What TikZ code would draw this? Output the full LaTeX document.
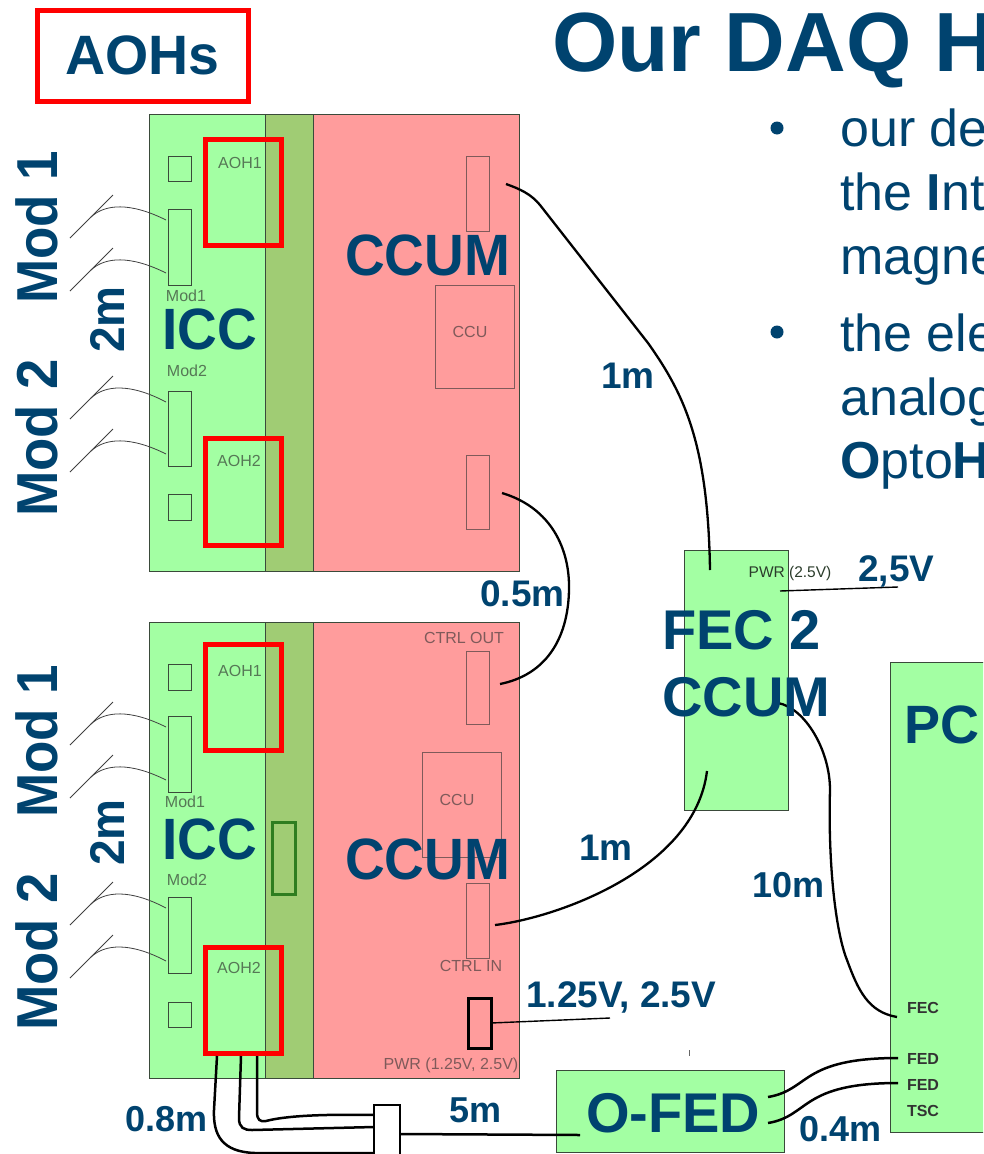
\documentclass[tikz,border=0pt]{standalone}
\usepackage{fontspec}
\usepackage{graphicx}
\setmainfont{Liberation Sans}
\definecolor{navy}{HTML}{00436F}
\definecolor{bgreen}{HTML}{A3FFA3}
\definecolor{bpink}{HTML}{FF9C9C}
\definecolor{bolive}{HTML}{A0CC74}
\definecolor{edge}{HTML}{3A4A3A}
\definecolor{graytxt}{HTML}{567856}
\definecolor{pinktxt}{HTML}{7F5A5A}
\definecolor{gatecol}{HTML}{2E7D20}
\newcommand{\pxbox}[6]{%
  \pgfmathsetmacro\pxW{#5-#3}\pgfmathsetmacro\pxH{#6-#4}%
  \node[#1,minimum width=\pxW pt,minimum height=\pxH pt,inner sep=0pt,outer sep=0pt,anchor=north west] (#2) at (#3,#4) {};}
\newcommand{\navysz}[1]{\fontsize{#1}{#1}\selectfont}
\newcommand{\tall}[2]{\scalebox{1}[#1]{#2}}
\tikzset{
  gfill/.style={fill=bgreen,draw=edge,line width=0.9pt},
  pfill/.style={fill=bpink,draw=edge,line width=0.9pt},
  ofill/.style={fill=bolive,draw=edge,line width=0.9pt},
  partg/.style={draw=edge,line width=0.9pt},
  redbox/.style={draw=red,line width=5pt},
  thin wire/.style={draw=black!75,line width=0.8pt},
  cable/.style={draw=black,line width=2.5pt},
  lbl/.style={anchor=base west,inner sep=0pt,text=navy,font=\bfseries},
  small/.style={inner sep=0pt,text=graytxt,font=\fontsize{16}{16}\selectfont},
  smallp/.style={inner sep=0pt,text=pinktxt,font=\fontsize{16}{16}\selectfont},
  pclbl/.style={inner sep=0pt,text=black!80,font=\bfseries\fontsize{16}{16}\selectfont},
}
\begin{document}
\begin{tikzpicture}[x=1pt,y=-1pt]
\useasboundingbox (0,0) rectangle (983,1154);
\clip (0,0) rectangle (983,1154);
% ---- title block
\pxbox{draw=red,line width=5pt}{aohkey}{37.5}{10}{248.5}{101.5}
\node[lbl,font=\bfseries\navysz{55.5}] (aohs) at (65,74) {AOHs};
\node[lbl,font=\bfseries\navysz{84}] (title) at (552,71) {Our DAQ H};
\fill[navy] (777,128) circle (6.5);
\fill[navy] (777,332) circle (6.5);
\node[lbl,font=\navysz{52}] (t1) at (840,146) {our de};
\node[lbl,font=\navysz{52}] (t2) at (840,210) {the \textbf{I}nt};
\node[lbl,font=\navysz{52}] (t3) at (840,274) {magne};
\node[lbl,font=\navysz{52}] (t4) at (840,351) {the ele};
\node[lbl,font=\navysz{52}] (t5) at (840,415) {analog};
\node[lbl,font=\navysz{52}] (t6) at (840,478) {\textbf{O}pto\textbf{H}};
% ---- upper board
\pxbox{pfill}{pinkA}{313}{114}{519}{571}
\pxbox{gfill}{greenA}{149}{114}{265}{571}
\pxbox{ofill}{oliveA}{265}{114}{313}{571}
\pxbox{partg}{sqA1}{168}{156}{191}{181}
\pxbox{partg}{sqA2}{168}{494}{191}{520}
\pxbox{partg}{modA1}{168}{209}{191}{285}
\pxbox{partg}{modA2}{168}{391}{191}{466}
\pxbox{redbox}{aohA1}{205.5}{139.5}{281.5}{245.5}
\pxbox{redbox}{aohA2}{205.5}{438.5}{281.5}{545.5}
\pxbox{draw=pinktxt,line width=0.9pt}{ctrlA1}{466}{156}{489}{231}
\pxbox{draw=pinktxt,line width=0.9pt}{ctrlA2}{466}{455}{489}{529}
\pxbox{draw=pinktxt,line width=0.9pt}{ccuA}{435}{285}{514}{388}
\node[small] (la1) at (240,163) {AOH1};
\node[small] (la2) at (239,461) {AOH2};
\node[small] (lm1) at (186,296) {Mod1};
\node[small] (lm2) at (187,371) {Mod2};
\node[smallp] (lccuA) at (470,332) {CCU};
% ---- lower board
\pxbox{pfill}{pinkB}{313}{622}{519}{1078}
\pxbox{gfill}{greenB}{149}{622}{265}{1078}
\pxbox{ofill}{oliveB}{265}{622}{313}{1078}
\pxbox{partg}{sqB1}{168}{664}{191}{690}
\pxbox{partg}{sqB2}{168}{1002}{191}{1027}
\pxbox{partg}{modB1}{168}{716}{191}{792}
\pxbox{partg}{modB2}{168}{897}{191}{973}
\pxbox{draw=gatecol,line width=3pt}{gate}{272}{822}{295}{894}
\pxbox{redbox}{aohB1}{205.5}{644.5}{281.5}{750.5}
\pxbox{redbox}{aohB2}{205.5}{947.5}{281.5}{1053.5}
\pxbox{draw=pinktxt,line width=0.9pt}{ctrlout}{466}{651}{489}{724}
\pxbox{draw=pinktxt,line width=0.9pt}{ccuB}{422}{752}{501}{857}
\pxbox{draw=pinktxt,line width=0.9pt}{ctrlin}{466}{883}{489}{958}
\pxbox{draw=black,line width=3pt}{pwrB}{468}{998}{491}{1048}
\node[small] (lb1) at (240,671) {AOH1};
\node[small] (lb2) at (239,968) {AOH2};
\node[small] (ln1) at (185,802) {Mod1};
\node[small] (ln2) at (187,880) {Mod2};
\node[smallp] (lctrlo) at (464,638) {CTRL OUT};
\node[smallp] (lccuB) at (457,800) {CCU};
\node[smallp] (lctrli) at (471,966) {CTRL IN};
\node[smallp] (lpwr) at (451,1065) {PWR (1.25V, 2.5V)};
% ---- other boxes
\pxbox{gfill}{fec}{684}{550}{788}{810}
\pxbox{gfill}{pc}{890}{662}{990}{1132}
\pxbox{gfill}{ofed}{556}{1070}{784}{1152}
\pxbox{draw=black,fill=white,line width=2.5pt}{split}{374}{1105}{400}{1170}
\node[small,text=black!50!graytxt,font=\fontsize{15.5}{15.5}\selectfont] (lpwrf) at (790,573) {PWR (2.5V)};
\node[pclbl] (lfec) at (923,1008) {FEC};
\node[pclbl] (lfed1) at (923,1059) {FED};
\node[pclbl] (lfed2) at (923,1085) {FED};
\node[pclbl] (ltsc) at (923,1111) {TSC};
% ---- module pigtails
\foreach \n/\dy/\ax/\ay in {a/0/166/220,b/53/166/273,c/181/166/402,d/234/166/454,e/507/166/727,f/560/166/780,g/687/166/908,h/740/166/961}{
  \coordinate (\n p) at (70,238+\dy);
  \coordinate (\n q) at (113,195+\dy);
  \coordinate (\n r) at (91,217+\dy);
  \coordinate (\n s) at (\ax,\ay);
  \draw[thin wire] (\n p) -- (\n q);
  \draw[thin wire] (\n r) .. controls (105,204+\dy) and (130,202+\dy) .. (\n s);
}
% ---- cables
\coordinate (c1a) at (506,184); \coordinate (c1b) at (710,570);
\draw[cable,line width=2.3pt] (c1a) .. controls (520,189) and (531,194) .. (540,205)
  -- (648,343) .. controls (685,395) and (708,445) .. (c1b);
\coordinate (c2a) at (502,493); \coordinate (c2b) at (500,684);
\draw[cable,line width=2.3pt] (c2a) .. controls (552,508) and (570,550) .. (569,590)
  .. controls (568,640) and (545,675) .. (c2b);
\coordinate (c3a) at (495,925); \coordinate (c3b) at (707,771);
\draw[cable,line width=2.3pt] (c3a) .. controls (555,918) and (695,870) .. (c3b);
\coordinate (c4a) at (778,703); \coordinate (c4b) at (897,1017);
\draw[cable,line width=2.3pt] (c4a) .. controls (805,708) and (830,750) .. (830,790)
  .. controls (828,860) and (835,930) .. (847,960)
  .. controls (858,990) and (868,1012) .. (c4b);
\coordinate (v1a) at (780,591); \coordinate (v1b) at (898,587);
\draw[cable,line width=1.4pt] (v1a) -- (v1b);
\coordinate (v2b) at (610,1018);
\draw[cable,line width=1.4pt] (pwrB.east) -- (v2b);
\coordinate (f1a) at (768,1097); \coordinate (f1b) at (898,1058);
\draw[cable] (f1a) .. controls (810,1090) and (800,1058) .. (f1b);
\coordinate (f2a) at (768,1123); \coordinate (f2b) at (898,1083);
\draw[cable] (f2a) .. controls (810,1116) and (800,1083) .. (f2b);
\coordinate (a1) at (217,1056); \coordinate (a2) at (241,1056); \coordinate (a3) at (257,1056);
\draw[cable] (a1) -- (214,1110) .. controls (213,1135) and (222,1152) .. (255,1153) -- (split.west |- 0,1153);
\draw[cable] (a2) -- (239,1118) .. controls (239,1128) and (244,1130) .. (252,1130) -- (split.west |- 0,1127);
\draw[cable] (a3) -- (257,1112) .. controls (257,1120) and (260,1122) .. (266,1121) .. controls (285,1116) and (320,1114) .. (split.west |- 0,1115);
\coordinate (o1) at (580,1135);
\draw[cable] (split.east |- 0,1134) -- (o1);
% small speck
\coordinate (sp1) at (689,1050); \coordinate (sp2) at (689,1056);
\draw[black!60,line width=0.7pt] (sp1) -- (sp2);
% ---- blue labels
\node[lbl,font=\bfseries\navysz{55}] (icc1) at (162,349) {\tall{1.06}{ICC}};
\node[lbl,font=\bfseries\navysz{55}] (icc2) at (162,859) {\tall{1.06}{ICC}};
\node[lbl,font=\bfseries\navysz{55}] (ccum1) at (345,275) {\tall{1.06}{CCUM}};
\node[lbl,font=\bfseries\navysz{55}] (ccum2) at (345,879) {\tall{1.06}{CCUM}};
\node[lbl,font=\bfseries\navysz{53},rotate=90] (m1) at (57,304) {\tall{1.09}{Mod 1}};
\node[lbl,font=\bfseries\navysz{54.5},rotate=90] (m2) at (57,517) {\tall{1.06}{Mod 2}};
\node[lbl,font=\bfseries\navysz{53},rotate=90] (m3) at (57,818) {\tall{1.09}{Mod 1}};
\node[lbl,font=\bfseries\navysz{54.5},rotate=90] (m4) at (57,1031) {\tall{1.06}{Mod 2}};
\node[lbl,font=\bfseries\navysz{46},rotate=90] (d1) at (124,353) {\tall{1.06}{2m}};
\node[lbl,font=\bfseries\navysz{46},rotate=90] (d2) at (124,866) {\tall{1.06}{2m}};
\node[lbl,font=\bfseries\navysz{37}] (l1m) at (601,388) {1m};
\node[lbl,font=\bfseries\navysz{37}] (l05) at (480,606) {0.5m};
\node[lbl,font=\bfseries\navysz{37}] (l25) at (858,581) {2,5V};
\node[lbl,font=\bfseries\navysz{56}] (lf2) at (662,649) {FEC 2};
\node[lbl,font=\bfseries\navysz{56}] (lcc) at (662,716) {CCUM};
\node[lbl,font=\bfseries\navysz{54}] (lpc) at (904,743) {PC};
\node[lbl,font=\bfseries\navysz{37}] (l1m2) at (579,860) {1m};
\node[lbl,font=\bfseries\navysz{36}] (l10) at (752,897) {10m};
\node[lbl,font=\bfseries\navysz{37}] (lv) at (526,1007) {1.25V, 2.5V};
\node[lbl,font=\bfseries\navysz{56}] (lo) at (586,1132) {O-FED};
\node[lbl,font=\bfseries\navysz{36}] (l08) at (125,1131) {0.8m};
\node[lbl,font=\bfseries\navysz{36}] (l5) at (449,1122) {5m};
\node[lbl,font=\bfseries\navysz{36}] (l04) at (799,1141) {0.4m};
\end{tikzpicture}
\end{document}
